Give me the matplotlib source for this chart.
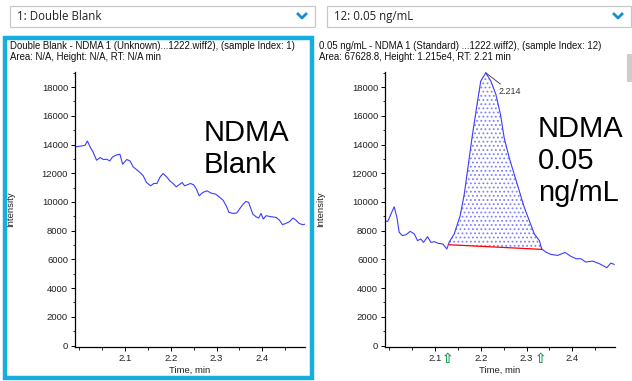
import numpy as np
import matplotlib
matplotlib.use("Agg")
import matplotlib.pyplot as plt
from matplotlib.patches import Rectangle
from matplotlib.ticker import MultipleLocator

plt.rcParams['font.family'] = ['Liberation Sans', 'DejaVu Sans']
plt.rcParams['hatch.linewidth'] = 0.8

W, H = 632, 381

# --- data ---
blank_time = [1.991, 2.006, 2.013, 2.018, 2.024, 2.031, 2.038, 2.046, 2.053, 2.060,
              2.067, 2.073, 2.082, 2.089, 2.095, 2.104, 2.111, 2.118, 2.125, 2.133,
              2.140, 2.147, 2.156, 2.163, 2.170, 2.176, 2.183, 2.191, 2.198, 2.205,
              2.212, 2.220, 2.225, 2.230, 2.236, 2.243, 2.250, 2.256, 2.262, 2.270,
              2.279, 2.288, 2.298, 2.307, 2.314, 2.321, 2.327, 2.336, 2.344, 2.350,
              2.357, 2.364, 2.370, 2.379, 2.386, 2.392, 2.397, 2.402, 2.408, 2.419,
              2.430, 2.437, 2.444, 2.451, 2.459, 2.467, 2.473, 2.480, 2.488, 2.495]
blank_int = [13833, 13903, 13949, 14250, 13833, 13440, 12907, 13093, 12954, 12977,
             12861, 13139, 13278, 13324, 12630, 12954, 12861, 12444, 12259, 12051,
             11819, 11356, 11125, 11287, 11287, 11704, 11981, 11750, 11472, 11287,
             11056, 11241, 11356, 11125, 11194, 11287, 11194, 10894, 10431, 10662,
             10778, 10616, 10546, 10315, 10130, 9736, 9273, 9204, 9227, 9505,
             9806, 10037, 9968, 9157, 8972, 8880, 9204, 8810, 9042, 8972,
             8926, 8741, 8417, 8509, 8625, 8880, 8741, 8509, 8417, 8463]

std_time = [1.989, 1.997, 2.004, 2.011, 2.017, 2.022, 2.029, 2.037, 2.046, 2.055,
            2.062, 2.069, 2.075, 2.084, 2.091, 2.099, 2.107, 2.117, 2.126, 2.131,
            2.142, 2.155, 2.164, 2.171, 2.182, 2.193, 2.200, 2.211, 2.222, 2.233,
            2.243, 2.251, 2.262, 2.273, 2.284, 2.295, 2.306, 2.317, 2.328, 2.333,
            2.342, 2.353, 2.368, 2.384, 2.397, 2.408, 2.419, 2.429, 2.444, 2.459,
            2.475, 2.484, 2.491]
std_int = [8694, 8648, 9157, 9667, 8926, 7884, 7653, 7722, 7954, 7769,
           7306, 7421, 7190, 7583, 7190, 7236, 7120, 7074, 6727, 7200,
           7769, 9042, 10546, 12167, 14713, 17028, 18417, 18995, 18417, 17491,
           16102, 14481, 13093, 11935, 10778, 9620, 8694, 7769, 7306, 6727,
           6509, 6347, 6278, 6486, 6208, 6046, 6046, 5815, 5884, 5699,
           5421, 5745, 5653]

base_time = [2.131, 2.333]
base_int = [7020, 6700]
apex_time, apex_int = 2.211, 18995
peak_label = "2.214"

yticks = [0, 2000, 4000, 6000, 8000, 10000, 12000, 14000, 16000, 18000]
xticks = [2.1, 2.2, 2.3, 2.4]

headers = [
    ("1: Double Blank",
     "Double Blank - NDMA 1 (Unknown)...1222.wiff2), (sample Index: 1)",
     "Area: N/A, Height: N/A, RT: N/A min",
     "NDMA\nBlank"),
    ("12: 0.05 ng/mL",
     "0.05 ng/mL - NDMA 1 (Standard) ...1222.wiff2), (sample Index: 12)",
     "Area: 67628.8, Height: 1.215e4, RT: 2.21 min",
     "NDMA\n0.05\nng/mL"),
]

fig = plt.figure(figsize=(W / 100, H / 100), dpi=100)


def fx(x):
    return x / W


def fy(y):
    return 1 - y / H


def style_axes(ax):
    ax.set_xlim(1.991, 2.493)
    ax.set_ylim(-100, 19050)
    ax.set_xticks(xticks)
    ax.set_yticks(yticks)
    ax.xaxis.set_minor_locator(MultipleLocator(0.05))
    ax.yaxis.set_minor_locator(MultipleLocator(1000))
    ax.spines[['top', 'right']].set_visible(False)
    for s in ['left', 'bottom']:
        ax.spines[s].set_linewidth(0.9)
    ax.tick_params(which='major', length=3, width=0.7, labelsize=6.8, pad=2,
                   labelcolor='#222222')
    ax.tick_params(which='minor', length=1.8, width=0.6)
    ax.set_xlabel("Time, min", fontsize=6.8, labelpad=2, color='#222222')
    ax.set_ylabel("Intensity", fontsize=6.8, color='#222222')


axes_left = [75, 385]
axes = []
for i, lx in enumerate(axes_left):
    ax = fig.add_axes([fx(lx), fy(347), 230 / W, 275 / H])
    style_axes(ax)
    ax.yaxis.set_label_coords(-0.26, 0.5)
    axes.append(ax)

# left: blank trace
axes[0].plot(blank_time, blank_int, color='#3c3cff', lw=0.8)

# right: standard trace with integrated peak
ax = axes[1]
st = np.array(std_time)
si = np.array(std_int)
mask = (st >= base_time[0]) & (st <= base_time[1])
base_line = np.interp(st[mask], base_time, base_int)
ax.fill_between(st[mask], base_line, si[mask], facecolor='white',
                edgecolor='#8080ff', hatch='....', linewidth=0)
ax.plot(st, si, color='#3c3cff', lw=0.8)
ax.plot(base_time, base_int, color='red', lw=0.9)
ax.plot([base_time[1], base_time[1]], [base_int[1], si[mask][-1]], color='red', lw=0.9)
ax.annotate(peak_label, xy=(apex_time, apex_int), xytext=(apex_time + 0.028, 17700),
            fontsize=6.4, color='#333333', va='center',
            arrowprops=dict(arrowstyle='-', color='#333333', lw=0.6, shrinkA=0, shrinkB=0))
for t in base_time:
    ax.text(t - 0.002, -0.045, '\u21e7', transform=ax.get_xaxis_transform(),
            ha='center', va='center', fontsize=10, color='#1a9a50', clip_on=False,
            family=['DejaVu Sans'], fontweight='bold')

# header elements
for i, (drop, line1, line2, big) in enumerate(headers):
    x0 = 10 if i == 0 else 327
    x1 = 315 if i == 0 else 631
    fig.patches.append(Rectangle((fx(x0), fy(27)), (x1 - x0) / W, 21 / H,
                                 transform=fig.transFigure, facecolor='white',
                                 edgecolor='#c8c8c8', lw=0.9))
    fig.text(fx(x0 + 7), fy(16.5), drop, fontsize=8.3, va='center', color='#222222',
             family=['Open Sans', 'DejaVu Sans'])
    cx = x1 - 13
    fig.add_artist(plt.Line2D([fx(cx - 4), fx(cx), fx(cx + 4)], [fy(14), fy(18), fy(14)],
                              transform=fig.transFigure, color='#1a8fd0', lw=2.0))
    tx = 10 if i == 0 else 319
    fig.text(fx(tx), fy(46), line1, fontsize=6.9, va='center', color='#111111')
    fig.text(fx(tx), fy(57), line2, fontsize=6.9, va='center', color='#111111')

fig.text(fx(204), fy(119), headers[0][3], fontsize=21, va='top', ha='left',
         linespacing=1.18)
fig.text(fx(538), fy(115), headers[1][3], fontsize=21, va='top', ha='left',
         linespacing=1.18)

# selection frame around the left pane
fig.patches.append(Rectangle((fx(5), fy(378)), 307 / W, 340 / H,
                             transform=fig.transFigure, facecolor='none',
                             edgecolor='#16aedf', lw=3.2))
# scrollbar stub on the right pane
fig.patches.append(Rectangle((fx(627), fy(82)), 5 / W, 28 / H,
                             transform=fig.transFigure, facecolor='#cdcdcd',
                             edgecolor='none'))

fig.savefig("out.png", dpi=100)
